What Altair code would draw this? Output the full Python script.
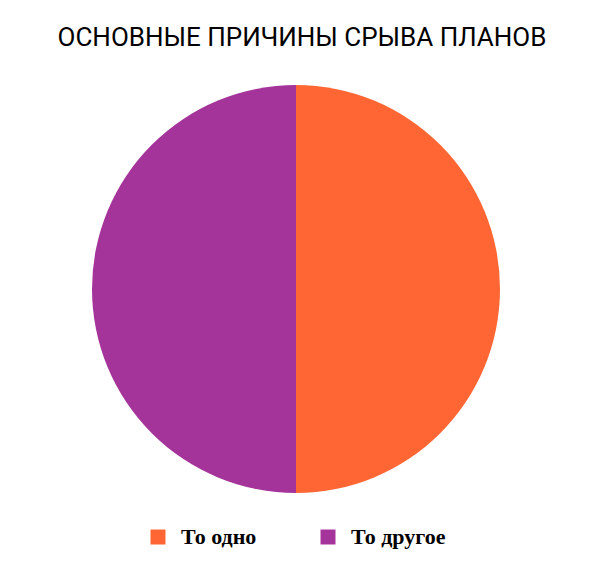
import altair as alt
import pandas as pd

categories = ["То одно", "То другое"]
values = [50, 50]
colors = ["#FF6633", "#A5349A"]
order = [0, 1]

df = pd.DataFrame({"cat": categories, "val": values, "ord": order})

chart = alt.Chart(df).mark_arc(radius=204, x=288, y=221).encode(
    theta=alt.Theta("val:Q", stack=True),
    order=alt.Order("ord:Q"),
    color=alt.Color(
        "cat:N",
        sort=categories,
        scale=alt.Scale(domain=categories, range=colors),
        legend=alt.Legend(
            title=None,
            orient="none",
            legendX=139,
            legendY=458,
            direction="horizontal",
            symbolType="square",
            symbolSize=225,
            symbolStrokeWidth=0,
            symbolOpacity=1,
            labelFont="Liberation Serif",
            labelFontWeight="bold",
            labelFontSize=22,
            labelColor="#000000",
            labelOffset=12,
            columnPadding=60,
            padding=0,
        ),
    ),
).properties(
    width=588,
    height=499,
    padding={"top": 60, "left": 0, "right": 0, "bottom": 0},
    autosize=alt.AutoSizeParams(type="none"),
    title=alt.TitleParams(
        "ОСНОВНЫЕ ПРИЧИНЫ СРЫВА ПЛАНОВ",
        font="Roboto",
        fontSize=26,
        fontWeight="normal",
        color="#000000",
        anchor="middle",
        offset=17,
    ),
).configure_view(stroke=None)

chart.save("out.html", embed_options={"renderer": "svg", "actions": False})
